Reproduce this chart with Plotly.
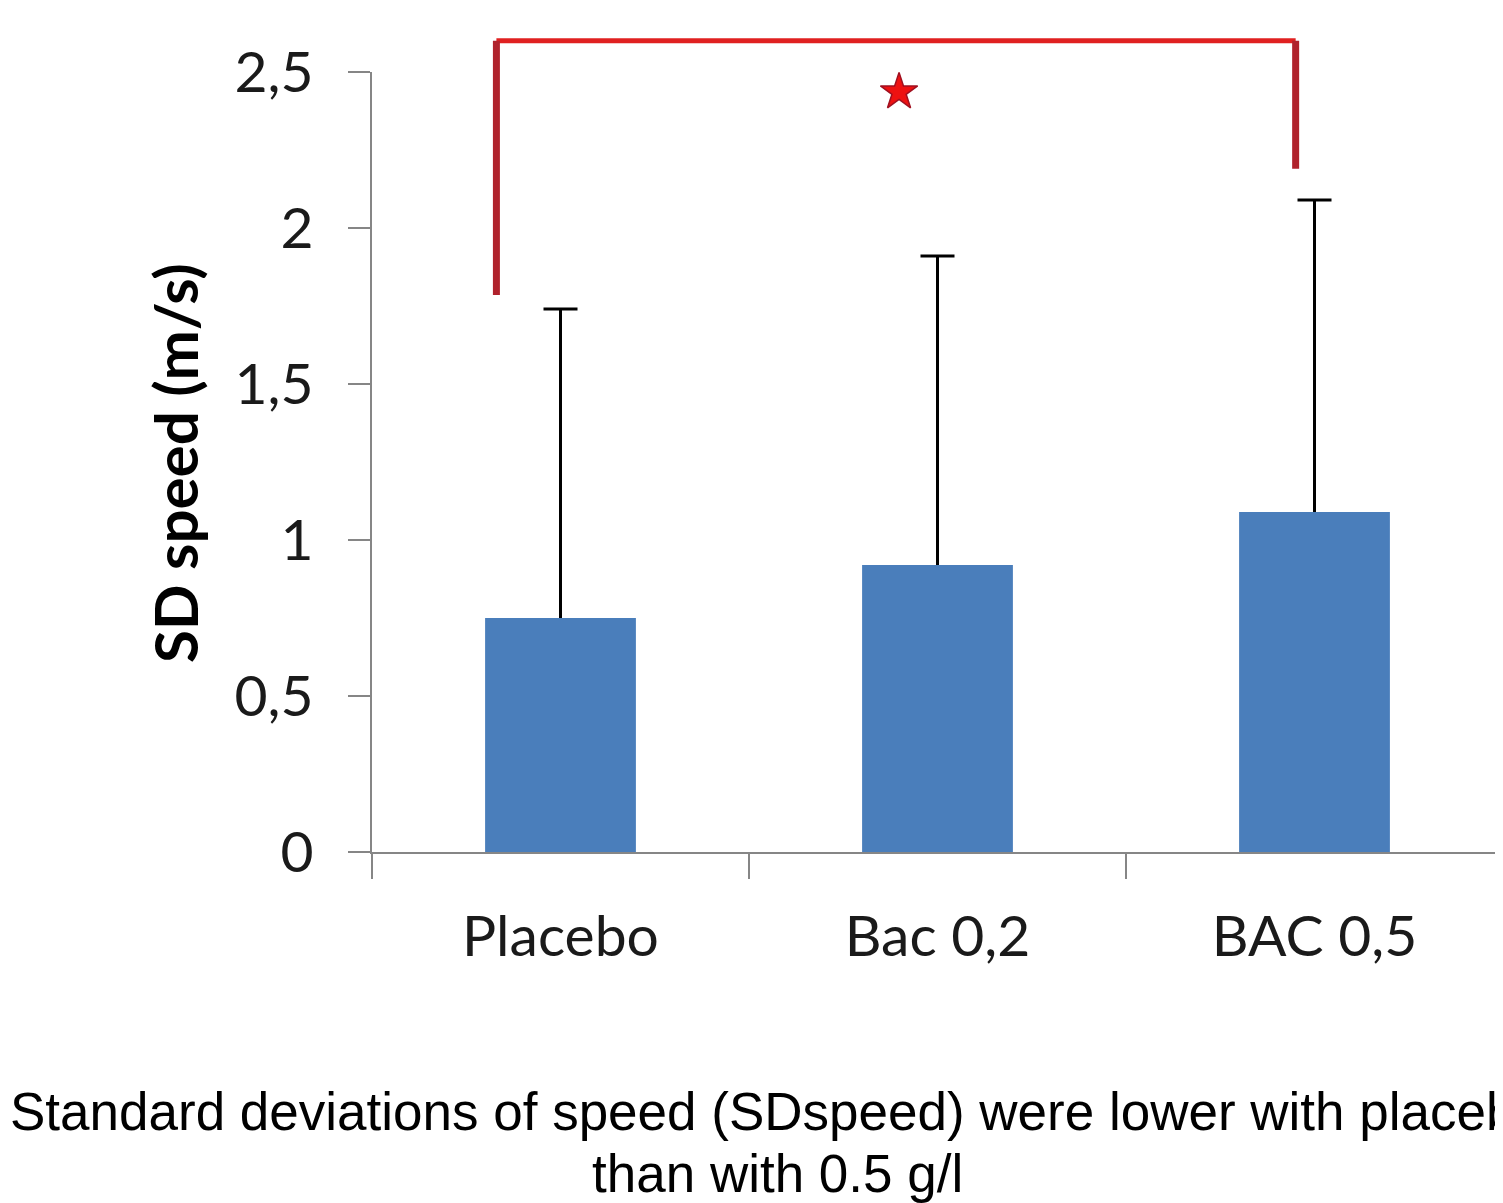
import plotly.graph_objects as go

categories = ["Placebo", "Bac 0,2", "BAC 0,5"]
means = [0.75, 0.92, 1.09]
sd_plus = [0.99, 0.99, 1.00]
ytick_vals = [0, 0.5, 1, 1.5, 2, 2.5]
ytick_text = ["0", "0,5", "1", "1,5", "2", "2,5"]

# significance bracket (data units)
bracket_x = [-0.17, 1.95]
bracket_top = 2.60
bracket_left_bottom = 1.785
bracket_right_bottom = 2.19
star_x = [0.898]
star_y = [2.436]

YMAX = 2.5
tops = [m + s for m, s in zip(means, sd_plus)]

fig = go.Figure()
# bars with upward error line (no caps)
fig.add_trace(go.Bar(
    x=categories, y=means, width=0.4,
    marker=dict(color="#4a7ebb", line=dict(width=0)),
    error_y=dict(type="data", symmetric=False, array=sd_plus,
                 arrayminus=[0] * len(means), color="black",
                 thickness=3, width=0),
))
# caps at the top of the error bars
fig.add_trace(go.Scatter(
    x=categories, y=tops, mode="markers",
    marker=dict(size=1, opacity=0),
    error_y=dict(type="data", array=[0] * len(tops), color="black",
                 thickness=3, width=17),
))
# star on a hidden numeric overlay axis
fig.add_trace(go.Scatter(
    x=star_x, y=star_y, xaxis="x2", mode="markers", cliponaxis=False,
    marker=dict(symbol="star", size=28, color="#ee1111",
                line=dict(color="#a01020", width=1.5)),
))

def dom(v):
    return v / YMAX

fig.add_shape(type="line", xref="x", yref="y domain",
              x0=bracket_x[0], x1=bracket_x[1],
              y0=dom(bracket_top), y1=dom(bracket_top),
              line=dict(color="#e02020", width=5))
fig.add_shape(type="line", xref="x", yref="y domain",
              x0=bracket_x[0], x1=bracket_x[0],
              y0=dom(bracket_top), y1=dom(bracket_left_bottom),
              line=dict(color="#b0222c", width=7))
fig.add_shape(type="line", xref="x", yref="y domain",
              x0=bracket_x[1], x1=bracket_x[1],
              y0=dom(bracket_top), y1=dom(bracket_right_bottom),
              line=dict(color="#b0222c", width=7))

# y axis title
fig.add_annotation(text="<b>SD speed (m/s)</b>", textangle=-90,
                   xref="paper", yref="paper", x=(175 - 372) / 1131, y=(852 - 463) / 780,
                   xanchor="center", yanchor="middle", showarrow=False,
                   font=dict(family="Lato", size=60, color="black"))

# caption
fig.add_annotation(text="Standard deviations of speed (SDspeed) were lower with placebo",
                   xref="paper", yref="paper", x=(777 - 372) / 1131,
                   y=(852 - 1111.5) / 780, xanchor="center", yanchor="middle",
                   showarrow=False,
                   font=dict(family="Liberation Sans", size=53, color="black"))
fig.add_annotation(text="than with 0.5 g/l",
                   xref="paper", yref="paper", x=(777 - 372) / 1131,
                   y=(852 - 1173.5) / 780, xanchor="center", yanchor="middle",
                   showarrow=False,
                   font=dict(family="Liberation Sans", size=53, color="black"))

fig.update_layout(
    width=1495, height=1195,
    margin=dict(l=364, r=0, t=64, b=351),
    plot_bgcolor="white", paper_bgcolor="white",
    showlegend=False,
    xaxis=dict(
        range=[-0.5, 2.5], showline=True, linecolor="#868686", linewidth=2,
        ticks="outside", tickson="boundaries", ticklen=25, tickwidth=2,
        tickcolor="#868686", showgrid=False, zeroline=False, automargin=False,
        tickfont=dict(family="Lato", size=57, color="#1a1a1a"),
        ticklabelstandoff=34,
    ),
    xaxis2=dict(range=[-0.5, 2.5], overlaying="x", visible=False),
    yaxis=dict(
        range=[0, YMAX], showline=True, linecolor="#868686", linewidth=2,
        ticks="outside", ticklen=22, tickwidth=2, tickcolor="#868686",
        tickvals=ytick_vals, ticktext=ytick_text, automargin=False,
        showgrid=False, zeroline=False,
        tickfont=dict(family="Lato", size=57, color="#1a1a1a"),
        ticklabelstandoff=23,
    ),
)

fig.write_html("out.html")
